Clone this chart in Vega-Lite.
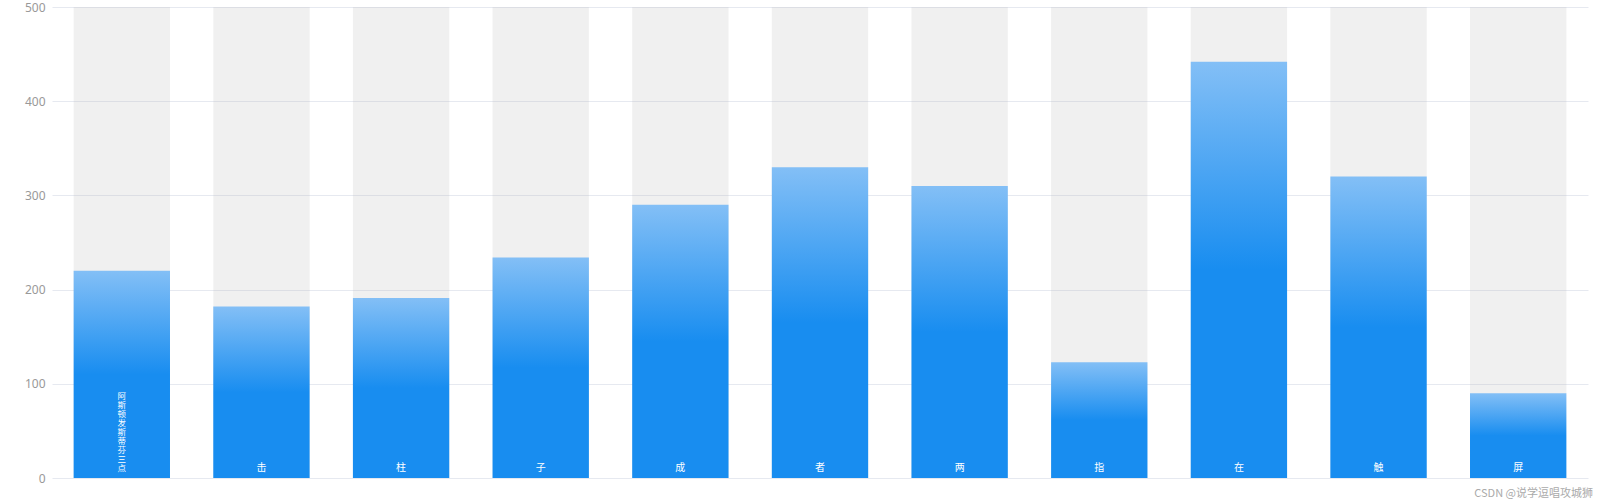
{
  "$schema": "https://vega.github.io/schema/vega-lite/v6.json",
  "width": 1536,
  "height": 471,
  "padding": {"left": 12, "top": 1, "right": 13, "bottom": 0},
  "background": "#ffffff",
  "config": {"view": {"stroke": null}, "font": "Noto Sans CJK SC"},
  "title": {
    "text": "CSDN @说学逗唱攻城狮",
    "orient": "bottom",
    "anchor": "end",
    "fontSize": 11,
    "fontWeight": "normal",
    "color": "#aaaaaa",
    "offset": 4,
    "dx": 5,
    "font": "Noto Sans CJK SC"
  },
  "data": {
    "values": [
      {"name": "阿斯顿发斯蒂芬三点", "value": 220},
      {"name": "击", "value": 182},
      {"name": "柱", "value": 191},
      {"name": "子", "value": 234},
      {"name": "成", "value": 290},
      {"name": "者", "value": 330},
      {"name": "两", "value": 310},
      {"name": "指", "value": 123},
      {"name": "在", "value": 442},
      {"name": "触", "value": 320},
      {"name": "屏", "value": 90}
    ]
  },
  "encoding": {
    "x": {
      "field": "name",
      "type": "nominal",
      "sort": null,
      "scale": {"paddingInner": 0.31, "paddingOuter": 0.155},
      "axis": null
    }
  },
  "layer": [
    {
      "mark": {"type": "bar", "fill": "rgba(180,180,180,0.2)"},
      "encoding": {
        "y": {
          "datum": 500,
          "type": "quantitative",
          "scale": {"domain": [0, 500], "nice": false},
          "axis": {
            "values": [0, 100, 200, 300, 400, 500],
            "title": null,
            "ticks": false,
            "domain": false,
            "grid": true,
            "gridColor": "#e6e9f0",
            "gridWidth": 1,
            "labelColor": "#999999",
            "labelFontSize": 12,
            "labelFont": "Noto Sans",
            "labelPadding": 7,
            "minExtent": 40,
            "maxExtent": 40
          }
        }
      }
    },
    {
      "mark": {
        "type": "bar",
        "color": {
          "gradient": "linear",
          "x1": 0, "y1": 0, "x2": 0, "y2": 1,
          "stops": [
            {"offset": 0, "color": "#83bff6"},
            {"offset": 0.5, "color": "#188df0"},
            {"offset": 1, "color": "#188df0"}
          ]
        }
      },
      "encoding": {
        "y": {"field": "value", "type": "quantitative"}
      }
    },
    {
      "transform": [{"filter": "length(datum.name) == 1"}],
      "mark": {
        "type": "text",
        "color": "#ffffff",
        "fontSize": 10,
        "baseline": "bottom",
        "align": "center",
        "dy": -5,
        "font": "Noto Sans CJK SC"
      },
      "encoding": {
        "y": {"datum": 0, "type": "quantitative"},
        "text": {"field": "name"}
      }
    },
    {
      "transform": [
        {"filter": "length(datum.name) > 1"},
        {"calculate": "split(datum.name, '')", "as": "lines"}
      ],
      "mark": {
        "type": "text",
        "color": "#ffffff",
        "fontSize": 8.5,
        "lineHeight": 9,
        "baseline": "bottom",
        "align": "center",
        "dy": -77,
        "font": "Noto Sans CJK SC"
      },
      "encoding": {
        "y": {"datum": 0, "type": "quantitative"},
        "text": {"field": "lines"}
      }
    }
  ]
}
